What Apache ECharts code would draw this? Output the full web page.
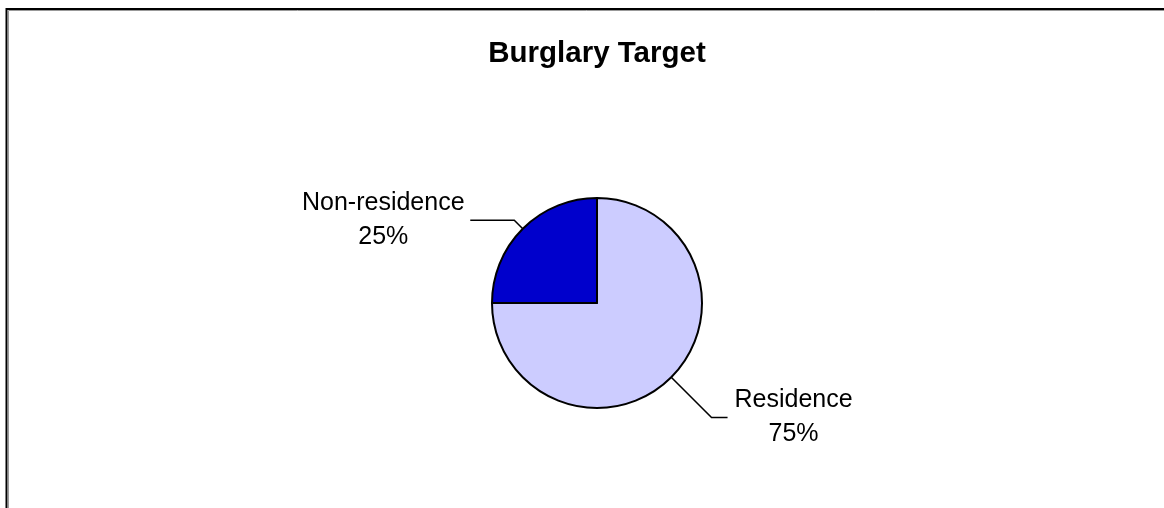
<!DOCTYPE html>
<html>
<head>
<meta charset="utf-8">
<script src="https://cdn.jsdelivr.net/npm/echarts@6/dist/echarts.min.js"></script>
<style>
  html, body { margin: 0; padding: 0; background: #fff; }
  #chart { width: 1164px; height: 508px; }
</style>
</head>
<body>
<div id="chart"></div>
<script>
const titleText = 'Burglary Target';
const categories = ['Residence', 'Non-residence'];
const values = [75, 25];
const colors = ['#CCCCFF', '#0000CC'];

const FONT = "'Liberation Sans', Arial, sans-serif";
const labelWidths = [124, 166];
const lineLens = [[57, 16], [12, 44]];

const chart = echarts.init(document.getElementById('chart'), null, { renderer: 'canvas' });

const dataItems = categories.map((name, i) => ({
  name: name,
  value: values[i],
  itemStyle: { color: colors[i] },
  label: {
    rich: {
      a: { width: labelWidths[i], align: 'center', fontSize: 25, lineHeight: 34, fontFamily: FONT, color: '#000' }
    }
  },
  labelLine: { length: lineLens[i][0], length2: lineLens[i][1] }
}));

chart.setOption({
  animation: false,
  backgroundColor: '#fff',
  title: {
    text: titleText,
    left: 592,
    top: 34,
    textAlign: 'center',
    textStyle: { fontFamily: FONT, fontWeight: 'bold', fontSize: 29.5, color: '#000' }
  },
  graphic: [
    { type: 'rect', shape: { x: 8.5, y: 10.5, width: 1400, height: 800 }, style: { fill: 'none', stroke: '#999', lineWidth: 1 }, silent: true },
    { type: 'rect', shape: { x: 6.5, y: 9, width: 1400, height: 800 }, style: { fill: 'none', stroke: '#000', lineWidth: 2 }, silent: true }
  ],
  series: [{
    type: 'pie',
    center: [597, 303],
    radius: 105,
    startAngle: 90,
    clockwise: true,
    avoidLabelOverlap: false,
    itemStyle: { borderColor: '#000', borderWidth: 2 },
    emphasis: { disabled: true },
    label: {
      show: true,
      position: 'outside',
      distanceToLabelLine: 4,
      formatter: p => '{a|' + p.name + '}\n{a|' + Math.round(p.percent) + '%}'
    },
    labelLine: { show: true, lineStyle: { color: '#000', width: 1.5 } },
    data: dataItems
  }]
});
</script>
</body>
</html>
